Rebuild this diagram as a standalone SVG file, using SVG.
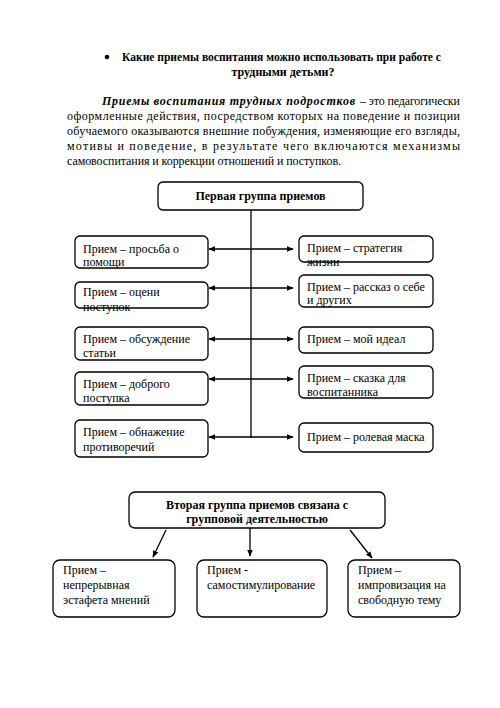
<svg xmlns="http://www.w3.org/2000/svg" width="500" height="708" viewBox="0 0 500 708" font-family="'Liberation Serif', serif" font-size="12">
<defs>
<style>
text{font-family:'Liberation Serif',serif;font-size:12px;fill:#000}
.b{font-weight:bold}
.bi{font-weight:bold;font-style:italic}
.box{fill:#fff;stroke:#000;stroke-width:1.3}
.ln{stroke:#000;stroke-width:1.3;fill:none}
</style>
<marker id="ah" viewBox="0 0 10 10" refX="9" refY="5" markerWidth="7" markerHeight="7" markerUnits="userSpaceOnUse" orient="auto-start-reverse">
<path d="M0,1 L10,5 L0,9 Z" fill="#000"/>
</marker>
</defs>
<rect width="500" height="708" fill="#fff"/>

<g id="header">
<circle cx="107" cy="57" r="2.3" fill="#000"/>
<text class="b" x="122" y="61" textLength="319" lengthAdjust="spacingAndGlyphs">Какие приемы воспитания можно использовать при работе с</text>
<text class="b" x="283" y="76" text-anchor="middle">трудными детьми?</text>
</g>

<g id="paragraph">
<text class="bi" x="102" y="105" textLength="253" lengthAdjust="spacing">Приемы воспитания трудных подростков</text>
<text x="360" y="105" textLength="100" lengthAdjust="spacing">– это педагогически</text>
<text x="67" y="120" textLength="393" lengthAdjust="spacing">оформленные действия, посредством которых на поведение и позиции</text>
<text x="67" y="135" textLength="393" lengthAdjust="spacing">обучаемого оказываются внешние побуждения, изменяющие его взгляды,</text>
<text x="67" y="150" textLength="393" lengthAdjust="spacing">мотивы и поведение, в результате чего включаются механизмы</text>
<text x="67" y="165" textLength="274" lengthAdjust="spacing">самовоспитания и коррекции отношений и поступков.</text>
</g>

<g id="connectors">
<line class="ln" x1="251" y1="210" x2="251" y2="438"/>
<line class="ln" x1="209" y1="249" x2="293" y2="249" marker-start="url(#ah)" marker-end="url(#ah)"/>
<line class="ln" x1="209" y1="288" x2="293" y2="288" marker-start="url(#ah)" marker-end="url(#ah)"/>
<line class="ln" x1="209" y1="339" x2="293" y2="339" marker-start="url(#ah)" marker-end="url(#ah)"/>
<line class="ln" x1="209" y1="379" x2="293" y2="379" marker-start="url(#ah)" marker-end="url(#ah)"/>
<line class="ln" x1="209" y1="437" x2="293" y2="437" marker-start="url(#ah)" marker-end="url(#ah)"/>
<line class="ln" x1="166" y1="530" x2="153" y2="557" marker-end="url(#ah)"/>
<line class="ln" x1="250" y1="528" x2="250" y2="556" marker-end="url(#ah)"/>
<line class="ln" x1="350" y1="530" x2="372" y2="558" marker-end="url(#ah)"/>
</g>

<g id="group1">
<rect class="box" x="158" y="182" width="205" height="28" rx="5"/>
<text class="b" x="260.5" y="200" text-anchor="middle">Первая группа приемов</text>
</g>

<g id="l1"><rect class="box" x="75" y="236" width="133" height="32" rx="5"/>
<text x="83" y="253">Прием – просьба о</text><text x="83" y="266">помощи</text></g>
<g id="l2"><rect class="box" x="75" y="282" width="133" height="26" rx="5"/>
<text x="83" y="296">Прием – оцени</text><text x="83" y="311">поступок</text></g>
<g id="l3"><rect class="box" x="75" y="327" width="133" height="33" rx="5"/>
<text x="83" y="343">Прием – обсуждение</text><text x="83" y="357">статьи</text></g>
<g id="l4"><rect class="box" x="75" y="372" width="133" height="33" rx="5"/>
<text x="83" y="388">Прием – доброго</text><text x="83" y="402">поступка</text></g>
<g id="l5"><rect class="box" x="75" y="420" width="133" height="37" rx="5"/>
<text x="83" y="436">Прием – обнажение</text><text x="83" y="451">противоречий</text></g>

<g id="r1"><rect class="box" x="299" y="236" width="134" height="26" rx="5"/>
<text x="307" y="252">Прием – стратегия</text><text x="307" y="266">жизни</text></g>
<g id="r2"><rect class="box" x="299" y="275" width="134" height="32" rx="5"/>
<text x="307" y="291">Прием – рассказ о себе</text><text x="307" y="304">и других</text></g>
<g id="r3"><rect class="box" x="299" y="327" width="134" height="26" rx="5"/>
<text x="307" y="343">Прием – мой идеал</text></g>
<g id="r4"><rect class="box" x="299" y="366" width="134" height="32" rx="5"/>
<text x="307" y="382">Прием – сказка для</text><text x="307" y="396">воспитанника</text></g>
<g id="r5"><rect class="box" x="299" y="423" width="134" height="29" rx="5"/>
<text x="307" y="441">Прием – ролевая маска</text></g>

<g id="group2">
<rect class="box" x="129" y="492" width="256" height="36" rx="6"/>
<text class="b" x="257" y="509" text-anchor="middle">Вторая группа приемов связана с</text>
<text class="b" x="257" y="523" text-anchor="middle">групповой деятельностью</text>
</g>

<g id="b1"><rect class="box" x="53" y="560" width="122" height="57" rx="7"/>
<text x="63" y="574">Прием –</text><text x="63" y="589">непрерывная</text><text x="63" y="604">эстафета мнений</text></g>
<g id="b2"><rect class="box" x="197" y="560" width="130" height="57" rx="7"/>
<text x="207" y="574">Прием -</text><text x="207" y="589">самостимулирование</text></g>
<g id="b3"><rect class="box" x="348" y="560" width="112" height="57" rx="7"/>
<text x="358" y="574">Прием –</text><text x="358" y="589">импровизация на</text><text x="358" y="604">свободную тему</text></g>
</svg>
